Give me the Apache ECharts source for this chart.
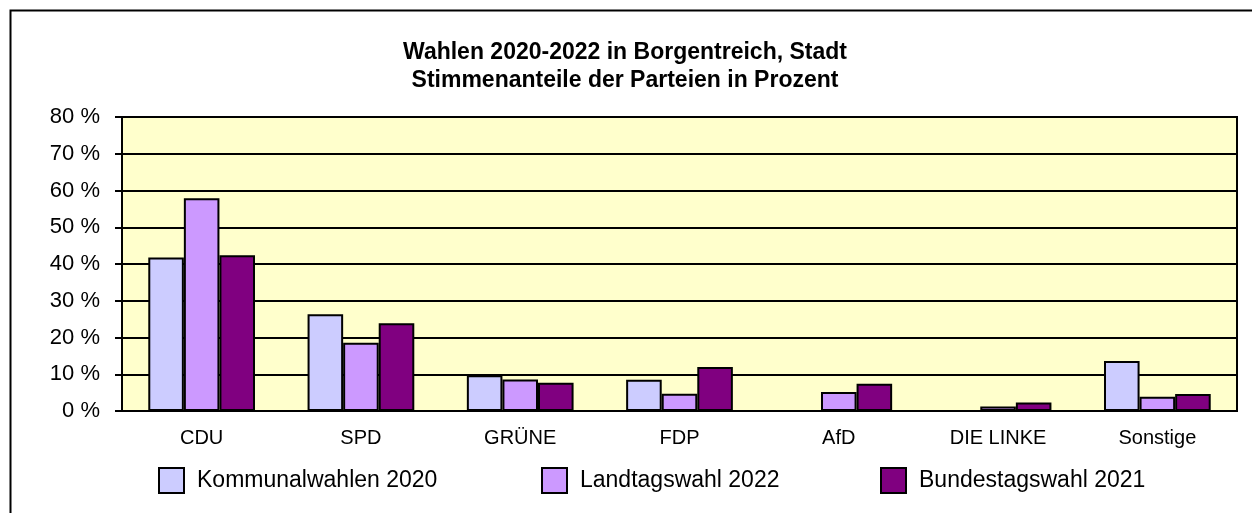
<!DOCTYPE html>
<html lang="de">
<head>
    <meta charset="UTF-8">
    <script src="https://cdn.jsdelivr.net/npm/echarts@6/dist/echarts.min.js"></script>
    <style>
        html, body { margin: 0; padding: 0; background: #fff; }
    </style>
</head>
<body>

<div id="main" style="width: 1252px;height:513px;"></div>

<script type="text/javascript">
    // Parteien (Kategorien) und Stimmenanteile in Prozent
    var parteien = ['CDU', 'SPD', 'GRÜNE', 'FDP', 'AfD', 'DIE LINKE', 'Sonstige'];
    var kommunal2020 = [41.8, 26.3, 9.7, 8.5, '-', '-', 13.6];
    var landtag2022 = [57.9, 18.6, 8.6, 4.7, 5.2, 1.2, 3.9];
    var bundestag2021 = [42.4, 23.9, 7.7, 12.0, 7.4, 2.3, 4.6];
    var wahlen = ['Kommunalwahlen 2020', 'Landtagswahl 2022', 'Bundestagswahl 2021'];
    var farben = ['#CCCCFF', '#CC99FF', '#800080'];

    var schrift = '"Liberation Sans", Arial, sans-serif';

    var myChart = echarts.init(document.getElementById('main'));

    function legende(name, x) {
        return {
            data: [name],
            left: x,
            top: 462,
            itemWidth: 25,
            itemHeight: 25,
            icon: 'rect',
            itemStyle: { borderColor: '#000', borderWidth: 2 },
            textStyle: {
                fontFamily: schrift,
                fontSize: 23,
                color: '#000',
                padding: [0, 0, 0, 8]
            }
        };
    }

    function reihe(i, werte) {
        return {
            name: wahlen[i],
            type: 'bar',
            data: werte,
            barGap: '0%',
            barCategoryGap: '33%',
            itemStyle: {
                color: farben[i],
                borderColor: '#000',
                borderWidth: 2
            }
        };
    }

    var option = {
        animation: false,
        title: {
            text: 'Wahlen 2020-2022 in Borgentreich, Stadt\nStimmenanteile der Parteien in Prozent',
            left: 620,
            top: 34,
            textAlign: 'center',
            textStyle: {
                fontFamily: schrift,
                fontSize: 23,
                fontWeight: 'bold',
                color: '#000',
                lineHeight: 28
            }
        },
        legend: [
            legende(wahlen[0], 153),
            legende(wahlen[1], 536),
            legende(wahlen[2], 875)
        ],
        grid: {
            left: 122,
            right: 15,
            top: 117,
            bottom: 102,
            show: true,
            backgroundColor: '#FFFFCC',
            borderColor: '#000',
            borderWidth: 2
        },
        xAxis: {
            type: 'category',
            data: parteien,
            axisLine: { lineStyle: { color: '#000', width: 2 } },
            axisTick: { show: false },
            axisLabel: {
                fontFamily: schrift,
                fontSize: 20,
                color: '#000',
                margin: 17
            }
        },
        yAxis: {
            type: 'value',
            min: 0,
            max: 80,
            interval: 10,
            axisLine: { show: true, lineStyle: { color: '#000', width: 2 } },
            axisTick: { show: true, length: 7, lineStyle: { color: '#000', width: 2 } },
            splitLine: { lineStyle: { color: '#000', width: 2 } },
            axisLabel: {
                fontFamily: schrift,
                fontSize: 22,
                color: '#000',
                margin: 22,
                formatter: '{value} %'
            }
        },
        graphic: [{
            type: 'rect',
            left: 8,
            top: 8,
            shape: { width: 1300, height: 600 },
            style: { fill: 'none', stroke: '#000', lineWidth: 2 },
            silent: true
        }],
        series: [
            reihe(0, kommunal2020),
            reihe(1, landtag2022),
            reihe(2, bundestag2021)
        ]
    };

    myChart.setOption(option);
</script>
</body>
</html>
